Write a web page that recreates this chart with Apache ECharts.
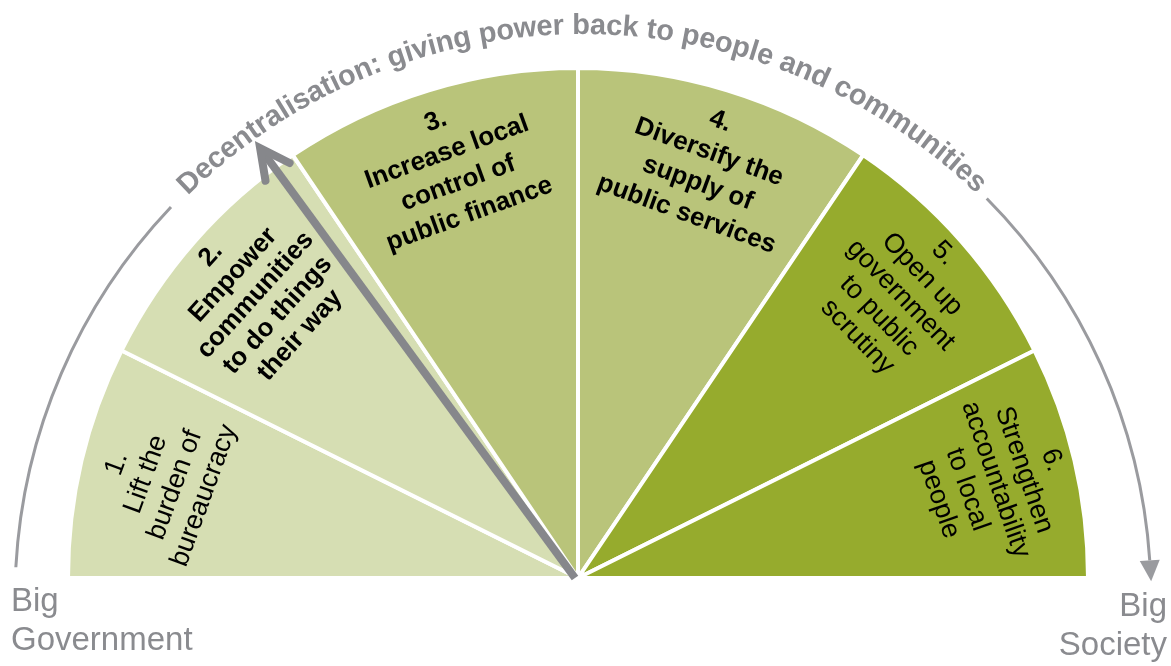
<!DOCTYPE html>
<html><head><meta charset="utf-8">
<script src="https://cdn.jsdelivr.net/npm/echarts@6/dist/echarts.min.js"></script>
<style>html,body{margin:0;padding:0;background:#fff}#main{width:1171px;height:666px}</style>
</head><body><div id="main"></div>
<script>
// ---- data ----
const categories = [
  '1.\nLift the\nburden of\nbureaucracy',
  '2.\nEmpower\ncommunities\nto do things\ntheir way',
  '3.\nIncrease local\ncontrol of\npublic finance',
  '4.\nDiversify the\nsupply of\npublic services',
  '5.\nOpen up\ngovernment\nto public\nscrutiny',
  '6.\nStrengthen\naccountability\nto local\npeople'
];
const sectorSpan = [26.5, 29.5, 34, 34, 29.5, 26.5];   // degrees of the half circle
const arcTitle = 'Decentralisation: giving power back to people and communities';
const leftEndLabel = ['Big', 'Government'];
const rightEndLabel = ['Big', 'Society'];
const pointerAngle = 53.6;   // degrees above the left horizon

// ---- styles ----
const sectorColors = ['#d6deb3', '#d6deb3', '#b9c47a', '#b9c47a', '#96ab2d', '#96ab2d'];
const labelRotate = [70, 48, 20, -20, -46, -71];
const labelWeight = ['normal', 'bold', 'bold', 'bold', 'normal', 'normal'];
const labelSize = [27, 26, 26, 26, 27, 27];
const labelLineH = [31, 30, 33, 33, 30, 30];
const FONT = '"Liberation Sans", Arial, Helvetica, sans-serif';
const GREY = '#8a8b8f';

const CX = 578, CY = 578, R = 510;
const chart = echarts.init(document.getElementById('main'), null, {renderer: 'canvas'});

const hidden = {value: 180, name: '', itemStyle: {color: 'rgba(0,0,0,0)', borderWidth: 0}, label: {show: false}};
const fillData = sectorSpan.map((v, i) => ({name: categories[i], value: v, itemStyle: {color: sectorColors[i]}}));
const labelData = sectorSpan.map((v, i) => ({name: categories[i], value: v,
  label: {rotate: labelRotate[i], fontWeight: labelWeight[i], fontSize: labelSize[i], lineHeight: labelLineH[i]}}));

// ---- decorations ----
const graphics = [];
const rad = d => d * Math.PI / 180;

// pointer arrow
(function () {
  const len = 534;
  const a = rad(pointerAngle);
  const tip = [CX - 1 - len * Math.cos(a), CY - len * Math.sin(a)];
  const u = [Math.cos(a), Math.sin(a)]; // from tip back toward centre
  const rot = (v, d) => [v[0] * Math.cos(rad(d)) - v[1] * Math.sin(rad(d)), v[0] * Math.sin(rad(d)) + v[1] * Math.cos(rad(d))];
  const armLen = 33;
  const a1 = rot(u, 27), a2 = rot(u, -27);
  graphics.push({type: 'line', silent: true, z: 10,
    shape: {x1: CX - 3, y1: CY, x2: tip[0] + u[0] * 5, y2: tip[1] + u[1] * 5},
    style: {stroke: '#86878b', lineWidth: 8, lineCap: 'butt'}});
  graphics.push({type: 'polyline', silent: true, z: 10,
    shape: {points: [[tip[0] + a1[0] * armLen, tip[1] + a1[1] * armLen], tip, [tip[0] + a2[0] * armLen, tip[1] + a2[1] * armLen]]},
    style: {stroke: '#86878b', lineWidth: 8, lineCap: 'round', lineJoin: 'miter', fill: null}});
})();

// outer arc with text
(function () {
  const ax = 583, ay = 598, ar = 568;
  graphics.push({type: 'arc', silent: true,
    shape: {cx: ax, cy: ay, r: ar, startAngle: rad(180 + 3.1), endAngle: rad(180 + 43.5), clockwise: true},
    style: {stroke: '#9a9b9f', lineWidth: 3, fill: null}});
  const endEl = 3.8;
  graphics.push({type: 'arc', silent: true,
    shape: {cx: ax, cy: ay, r: ar, startAngle: rad(360 - 44.7), endAngle: rad(360 - endEl), clockwise: true},
    style: {stroke: '#9a9b9f', lineWidth: 3, fill: null}});
  const e = rad(endEl);
  const B = [ax + ar * Math.cos(e), ay - ar * Math.sin(e)];
  const t = [Math.sin(e), Math.cos(e)];
  const n = [Math.cos(e), -Math.sin(e)];
  graphics.push({type: 'polygon', silent: true,
    shape: {points: [[B[0] + n[0] * 10, B[1] + n[1] * 10], [B[0] + t[0] * 21, B[1] + t[1] * 21], [B[0] - n[0] * 10, B[1] - n[1] * 10]]},
    style: {fill: '#9a9b9f'}});

  // curved title
  const fs = 29;
  const font = 'bold ' + fs + 'px ' + FONT;
  const ctx = document.createElement('canvas').getContext('2d');
  ctx.font = font;
  const chars = arcTitle.split('');
  const w = chars.map(c => ctx.measureText(c).width);
  const tr = 572;
  const spanDeg = 86.8;
  const centers = [];
  let acc = 0;
  for (let i = 0; i < chars.length; i++) { centers.push(acc + w[i] / 2); acc += w[i]; }
  const rawSpan = centers[centers.length - 1] - centers[0];
  const target = rad(spanDeg) * tr;
  const ls = (target - rawSpan) / (chars.length - 1);
  const pos = centers.map((c, i) => c + i * ls);
  const mid = (pos[0] + pos[pos.length - 1]) / 2;
  chars.forEach((c, i) => {
    if (c === ' ') return;
    const phi = Math.PI / 2 + (mid - pos[i]) / tr;
    graphics.push({type: 'text', silent: true,
      x: ax + tr * Math.cos(phi), y: ay - tr * Math.sin(phi), rotation: phi - Math.PI / 2,
      style: {text: c, font: font, fill: GREY, align: 'center', verticalAlign: 'middle'}});
  });
})();

// end labels
graphics.push({type: 'text', silent: true, x: 11, y: 582,
  style: {text: leftEndLabel.join('\n'), font: '33px ' + FONT, lineHeight: 39, fill: GREY, align: 'left', verticalAlign: 'top'}});
graphics.push({type: 'text', silent: true, x: 1167, y: 587,
  style: {text: rightEndLabel.join('\n'), font: '33px ' + FONT, lineHeight: 39, fill: GREY, align: 'right', verticalAlign: 'top'}});

chart.setOption({
  animation: false,
  backgroundColor: '#fff',
  series: [
    {type: 'pie', silent: true, center: [CX, CY], radius: [0, R], startAngle: 180, clockwise: true,
      label: {show: false}, labelLine: {show: false},
      itemStyle: {borderColor: '#fff', borderWidth: 4},
      data: fillData.concat([hidden])},
    {type: 'pie', silent: true, center: [CX, CY], radius: [342, R], startAngle: 180, clockwise: true, z: 3,
      avoidLabelOverlap: false,
      itemStyle: {color: 'rgba(0,0,0,0)', borderWidth: 0},
      labelLine: {show: false},
      label: {show: true, position: 'inside', formatter: '{b}', color: '#000', fontSize: 26, fontWeight: 'bold',
        fontFamily: FONT, lineHeight: 30, align: 'center'},
      data: labelData.concat([hidden])}
  ],
  graphic: graphics
});
</script></body></html>
